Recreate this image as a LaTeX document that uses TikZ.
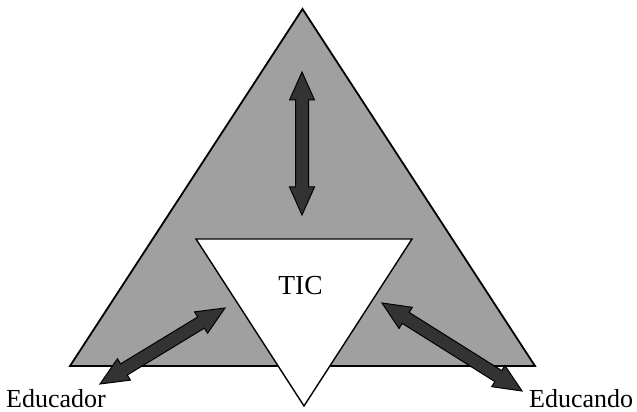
\documentclass[tikz,border=0pt]{standalone}
\usepackage{fontspec}
\setmainfont{Liberation Serif}
\usetikzlibrary{calc}
\definecolor{trifill}{RGB}{160,160,160}
\definecolor{arrfill}{RGB}{51,51,51}
\tikzset{
  bigtri/.style={draw=black, fill=trifill, line width=1.8pt, line join=miter},
  whitetri/.style={draw=black, fill=white, line width=1.4pt, line join=miter},
  fatarrow/.style={draw=black, fill=arrfill, line width=1pt, line join=miter},
  lbl/.style={font=\fontsize{26}{28}\selectfont, inner sep=0pt, text depth=0pt},
  ticlbl/.style={font=\fontsize{27.5}{30}\selectfont, inner sep=0pt}
}
\newcommand\dblarr[2]{%
  \coordinate (HA) at ($(#1)!28pt!(#2)$);
  \coordinate (HB) at ($(#2)!28pt!(#1)$);
  \draw[fatarrow] (#1) -- ($(HA)!12.5pt!90:(#2)$) -- ($(HA)!6.5pt!90:(#2)$)
    -- ($(HB)!6.5pt!-90:(#1)$) -- ($(HB)!12.5pt!-90:(#1)$) -- (#2)
    -- ($(HB)!12.5pt!90:(#1)$) -- ($(HB)!6.5pt!90:(#1)$)
    -- ($(HA)!6.5pt!-90:(#2)$) -- ($(HA)!12.5pt!-90:(#2)$) -- cycle;}
\begin{document}
\begin{tikzpicture}[x=1pt,y=1pt]
\useasboundingbox (0,0) rectangle (637,412);
% big triangle
\coordinate (BL) at (70,46);
\coordinate (BR) at (535,46);
\coordinate (BT) at (302.5,403);
\draw[bigtri] (BL) -- (BR) -- (BT) -- cycle;
% arrows
\coordinate (VT) at (302,340);
\coordinate (VB) at (302,197);
\coordinate (LA) at (100,28);
\coordinate (LB) at (225,104);
\coordinate (RA) at (382,109);
\coordinate (RB) at (522,21);
\dblarr{VT}{VB}
\dblarr{LA}{LB}
\dblarr{RA}{RB}
% inner triangle
\coordinate (WL) at (196,173);
\coordinate (WR) at (412,173);
\coordinate (WB) at (304,6);
\draw[whitetri] (WL) -- (WR) -- (WB) -- cycle;
% labels
\node[ticlbl, anchor=base] (tic) at (300.5,117) {TIC};
\node[lbl, anchor=base west] (educador) at (6,4.5) {Educador};
\node[lbl, anchor=base west] (educando) at (529,4.5) {Educando};
\end{tikzpicture}
\end{document}
